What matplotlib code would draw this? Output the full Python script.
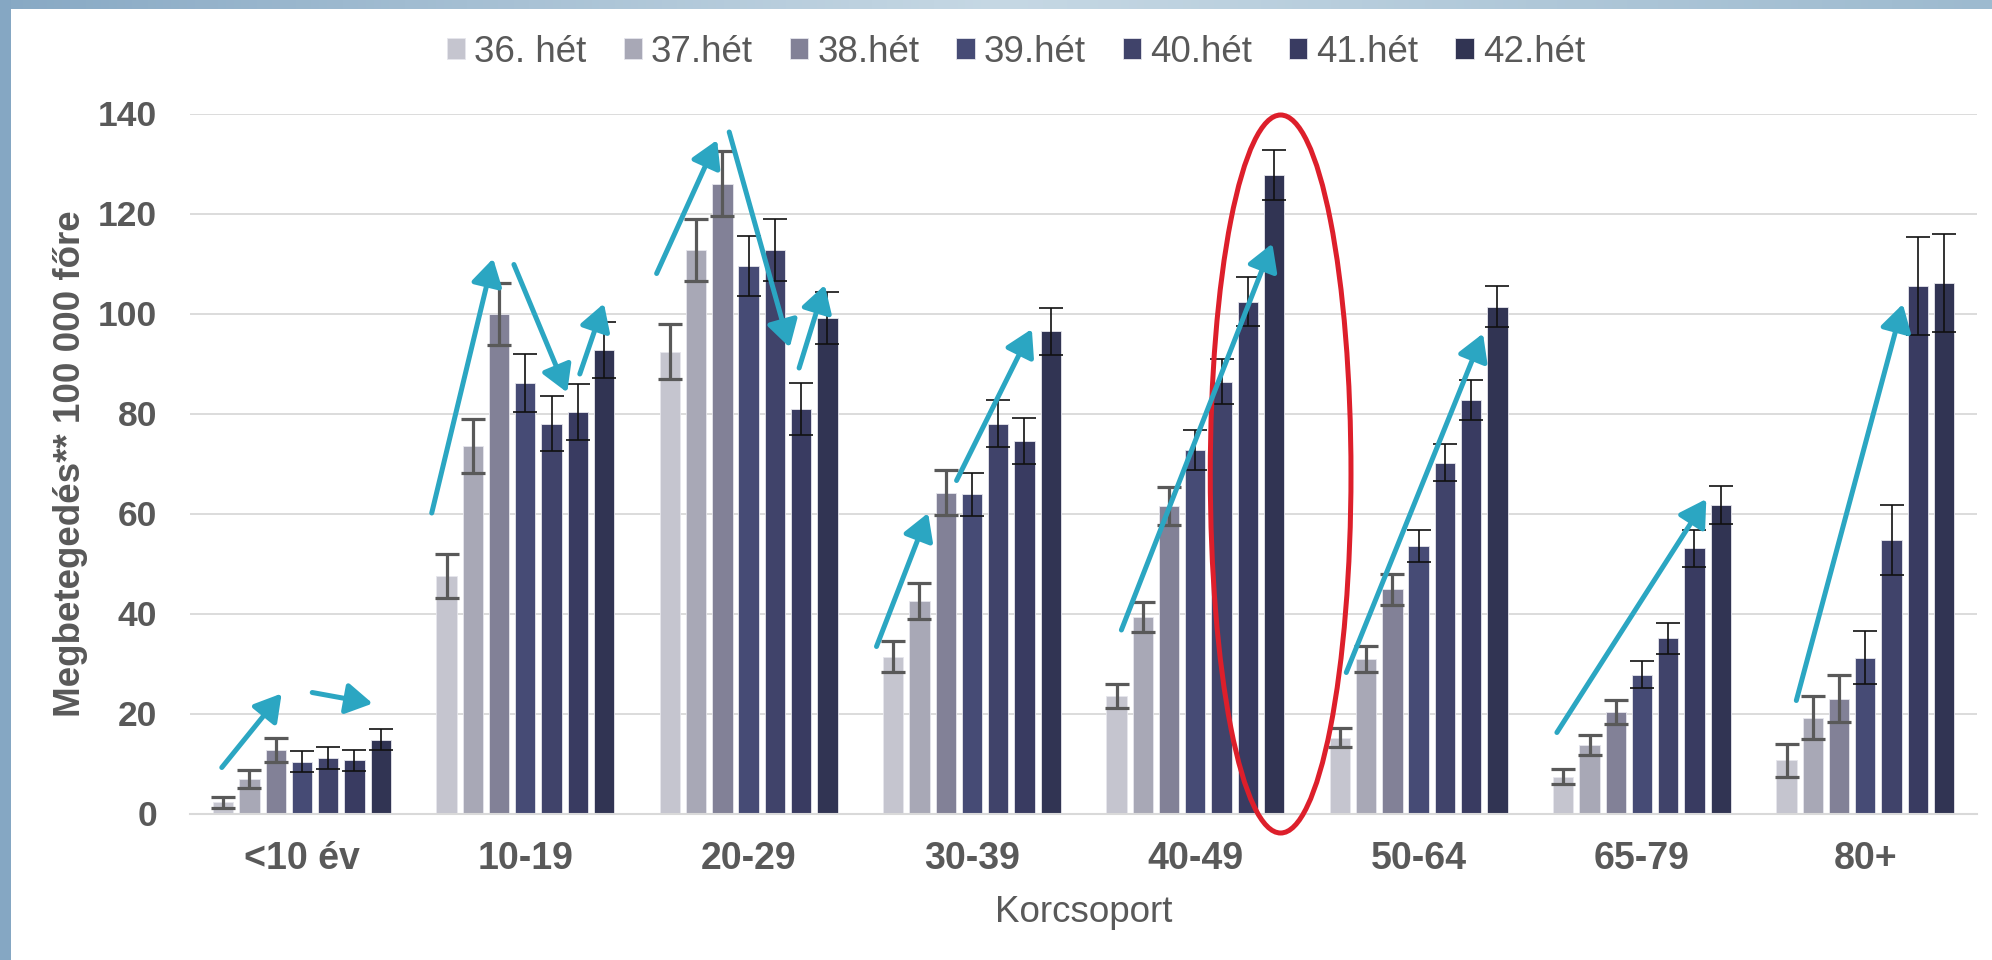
import numpy as np
import matplotlib
matplotlib.use("Agg")
import matplotlib.pyplot as plt
from matplotlib.patches import Ellipse, Rectangle, FancyArrowPatch
from matplotlib.colors import LinearSegmentedColormap

# ---------------- data ----------------
categories = ['<10 év', '10-19', '20-29', '30-39', '40-49', '50-64', '65-79', '80+']
series_names = ['36. hét', '37.hét', '38.hét', '39.hét', '40.hét', '41.hét', '42.hét']

w36 = [2.3, 47.5, 92.4, 31.4, 23.5, 15.2, 7.4, 10.7]
w37 = [6.9, 73.6, 112.7, 42.6, 39.3, 30.9, 13.8, 19.2]
w38 = [12.8, 99.9, 126.0, 64.2, 61.6, 44.9, 20.3, 23.0]
w39 = [10.4, 86.1, 109.5, 63.9, 72.7, 53.5, 27.8, 31.2]
w40 = [11.2, 78.0, 112.8, 78.0, 86.4, 70.2, 35.1, 54.8]
w41 = [10.7, 80.3, 80.9, 74.6, 102.4, 82.7, 53.1, 105.5]
w42 = [14.8, 92.7, 99.1, 96.5, 127.7, 101.4, 61.7, 106.2]

e36 = [1.1, 4.4, 5.6, 3.1, 2.4, 1.9, 1.5, 3.3]
e37 = [1.8, 5.4, 6.2, 3.6, 3.0, 2.6, 2.0, 4.3]
e38 = [2.4, 6.3, 6.5, 4.4, 3.8, 3.1, 2.4, 4.7]
e39 = [2.1, 5.8, 6.0, 4.3, 4.1, 3.2, 2.7, 5.3]
e40 = [2.2, 5.5, 6.2, 4.7, 4.4, 3.7, 3.1, 7.0]
e41 = [2.1, 5.6, 5.2, 4.6, 4.9, 4.1, 3.7, 9.8]
e42 = [2.1, 5.6, 5.2, 4.7, 5.0, 4.1, 3.8, 9.8]

values = [w36, w37, w38, w39, w40, w41, w42]
errors = [e36, e37, e38, e39, e40, e41, e42]

# annotation arrows (tail x, tail y, head x, head y) in data units
arrows = [
    (-0.359, 9.2, -0.091, 24.0),
    (0.046, 24.2, 0.3165, 22.0),
    (0.581, 60.1, 0.856, 111.0),
    (0.949, 109.8, 1.1875, 84.2),
    (1.244, 87.9, 1.352, 102.0),
    (1.588, 108.0, 1.859, 134.7),
    (1.913, 136.3, 2.184, 93.2),
    (2.226, 89.1, 2.341, 105.7),
    (2.5725, 33.4, 2.8035, 60.1),
    (2.931, 66.6, 3.268, 96.9),
    (3.669, 36.7, 4.345, 114.0),
    (4.676, 28.2, 5.288, 96.0),
    (5.619, 16.2, 6.288, 62.9),
    (6.691, 22.6, 7.168, 101.9),
]
# highlight ellipse (center x, center y, width, height)
highlight = (4.382, 67.9, 0.63, 143.6)

# ---------------- style ----------------
bar_colors = ['#C5C5CF', '#A8A8B6', '#828197', '#464B75', '#40436A', '#393B61', '#313453']
err_colors = ['#595959', '#595959', '#595959', '#111111', '#111111', '#111111', '#111111']
err_lw = [2.3, 2.3, 2.3, 1.2, 1.2, 1.2, 1.2]
txt = '#595959'
font = ['Liberation Sans', 'DejaVu Sans']
plt.rcParams['font.family'] = font

W, H = 1992, 960
fig = plt.figure(figsize=(W / 100, H / 100), dpi=100)
fig.patch.set_facecolor('white')

ax_left, ax_right = 190.3 / W, 1977 / W
ax_bottom, ax_top = 1 - 813.5 / H, 1 - 113.5 / H
ax = fig.add_axes([ax_left, ax_bottom, ax_right - ax_left, ax_top - ax_bottom])

x = np.arange(len(categories))
step = 0.1175
bw = 0.091
for i, (vals, errs) in enumerate(zip(values, errors)):
    xs = x + (i - 3) * step
    ax.bar(xs, vals, width=bw, color=bar_colors[i], edgecolor='#E6E6EC',
           linewidth=0.6, label=series_names[i], zorder=2)
    ax.errorbar(xs, vals, yerr=errs, fmt='none', ecolor=err_colors[i],
                elinewidth=err_lw[i], capsize=8.5, capthick=err_lw[i], zorder=3)

ax.set_xlim(-0.5, len(categories) - 0.5)
ax.set_ylim(0, 140)
ax.set_yticks(np.arange(0, 141, 20))
ax.yaxis.grid(True, color='#D9D9D9', linewidth=1.3, zorder=0)
ax.set_axisbelow(True)
for s in ['top', 'right', 'left']:
    ax.spines[s].set_visible(False)
ax.spines['bottom'].set_color('#D9D9D9')
ax.spines['bottom'].set_linewidth(1.5)
ax.set_xticks(x)
ax.set_xticklabels(categories)
ax.tick_params(axis='both', length=0)
ax.tick_params(axis='y', pad=24, labelsize=25.5, labelcolor=txt)
ax.tick_params(axis='x', pad=20, labelsize=27, labelcolor=txt)
for lab in ax.get_xticklabels() + ax.get_yticklabels():
    lab.set_fontweight('bold')

ax.set_xlabel('Korcsoport', fontsize=26.5, color=txt, labelpad=13)
fig.text(70 / W, 1 - 464 / H, 'Megbetegedés** 100 000 főre', rotation=90,
         ha='center', va='center', fontsize=26.5, fontweight='bold', color=txt)

# highlight ellipse
cx, cy, ew, eh = highlight
ax.add_patch(Ellipse((cx, cy), ew, eh, fill=False, edgecolor='#DD1F2B',
                     linewidth=3.6, clip_on=False, zorder=6))

# arrows
for (x0, y0, x1, y1) in arrows:
    ax.add_patch(FancyArrowPatch((x0, y0), (x1, y1),
                                 arrowstyle='-|>,head_length=0.8,head_width=0.47',
                                 mutation_scale=20, color='#2BA6C2', linewidth=3.6,
                                 shrinkA=0, shrinkB=0, clip_on=False, zorder=7))

# legend
fig.legend(loc='center', bbox_to_anchor=(1016 / W, 1 - 52 / H), ncol=7,
           frameon=False, fontsize=26.5, labelcolor=txt, handlelength=0.5,
           handleheight=0.5, handletextpad=0.25, columnspacing=1.0)

# decorative frame pieces
fig.patches.append(Rectangle((0, 0), 11 / W, 1, transform=fig.transFigure,
                             facecolor='#85A7C3', edgecolor='none', zorder=10))
bar_ax = fig.add_axes([0, 1 - 9 / H, 1, 9 / H])
grad = np.linspace(0, 1, 256)
cmap = LinearSegmentedColormap.from_list('topbar', ['#88A9C4', '#C6D8E4', '#9DBACF'])
bar_ax.imshow(grad[None, :], aspect='auto', cmap=cmap)
bar_ax.axis('off')

fig.savefig('out.png', dpi=100, facecolor='white')
